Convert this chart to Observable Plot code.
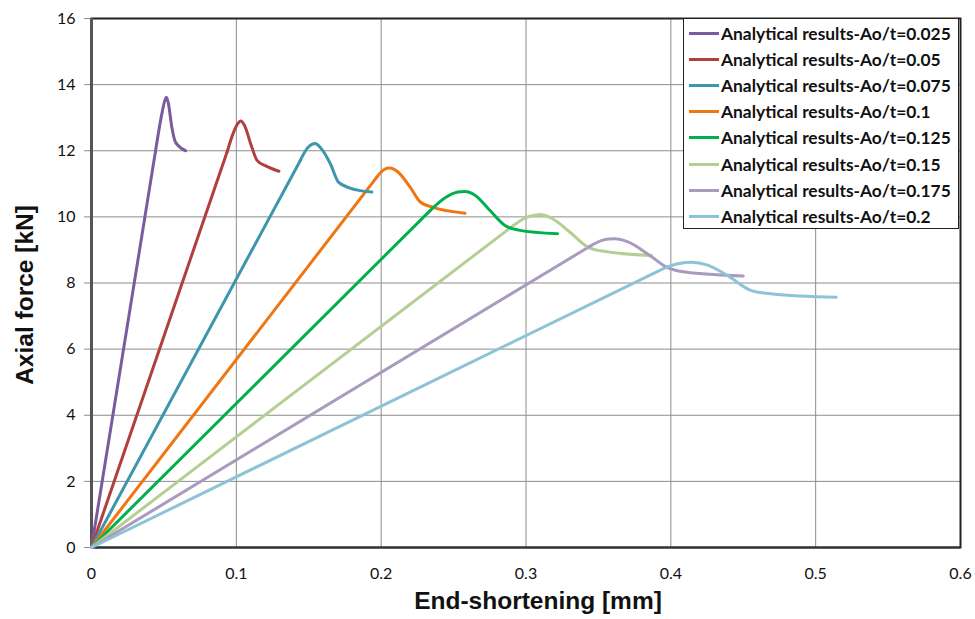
<!DOCTYPE html>
<html>
<head>
<meta charset="utf-8">
<script src="https://cdn.jsdelivr.net/npm/d3@7"></script>
<script src="https://cdn.jsdelivr.net/npm/@observablehq/plot@0.6"></script>
<style>
  html, body { margin: 0; padding: 0; background: #fff; }
  #wrap { position: relative; width: 975px; height: 619px; }
  #legend {
    position: absolute; left: 683px; top: 18px; width: 276px; height: 211px;
    background: #fff; border: 1px solid #222; box-sizing: border-box;
    font-family: Lato, "Open Sans", sans-serif; font-weight: bold; font-size: 17.4px; color: #111;
    padding-top: 1px; white-space: nowrap;
  }
  .row { display: flex; align-items: center; height: 26.2px; }
  .sw { width: 30px; height: 3px; margin-left: 5px; margin-right: 2px; flex: none; }
</style>
</head>
<body>
<div id="wrap"></div>
<script>
const seriesNames = ["Analytical results-Ao/t=0.025","Analytical results-Ao/t=0.05","Analytical results-Ao/t=0.075","Analytical results-Ao/t=0.1","Analytical results-Ao/t=0.125","Analytical results-Ao/t=0.15","Analytical results-Ao/t=0.175","Analytical results-Ao/t=0.2"];
const seriesColors = ["#7a5c9e","#b13f3b","#3e96ad","#ef7610","#00b04f","#b5cf92","#a99abf","#8dc3d6"];

// first two points of each series: straight elastic branch; the rest: smooth peak and post-buckling branch
const s025x = [0, 0.0441, 0.0485, 0.0505, 0.0517, 0.053, 0.0555, 0.0575, 0.060, 0.065];
const s025y = [0, 11.96, 13.1, 13.5, 13.62, 13.45, 12.7, 12.31, 12.15, 12.0];
const s050x = [0, 0.0936, 0.098, 0.101, 0.103, 0.1055, 0.110, 0.1143, 0.120, 0.1294];
const s050y = [0, 11.96, 12.55, 12.82, 12.9, 12.78, 12.2, 11.71, 11.55, 11.38];
const s075x = [0, 0.1441, 0.149, 0.1525, 0.1545, 0.158, 0.165, 0.1705, 0.178, 0.1936];
const s075y = [0, 11.7, 12.08, 12.2, 12.22, 12.1, 11.6, 11.05, 10.88, 10.75];
const s100x = [0, 0.197, 0.201, 0.204, 0.2062, 0.211, 0.220, 0.227, 0.235, 0.2579];
const s100y = [0, 11.2, 11.4, 11.47, 11.48, 11.38, 10.9, 10.45, 10.3, 10.11];
const s125x = [0, 0.2338, 0.245, 0.253, 0.2579, 0.265, 0.275, 0.2855, 0.295, 0.3218];
const s125y = [0, 10.19, 10.6, 10.75, 10.77, 10.65, 10.2, 9.74, 9.6, 9.49];
const s150x = [0, 0.2913, 0.300, 0.306, 0.3097, 0.318, 0.330, 0.343, 0.355, 0.3867];
const s150y = [0, 9.74, 9.98, 10.05, 10.07, 9.95, 9.55, 9.08, 8.95, 8.83];
const s175x = [0, 0.343, 0.352, 0.357, 0.3614, 0.370, 0.385, 0.397, 0.410, 0.450];
const s175y = [0, 9.08, 9.28, 9.33, 9.34, 9.25, 8.85, 8.48, 8.33, 8.21];
const s200x = [0, 0.397, 0.405, 0.410, 0.4142, 0.425, 0.440, 0.4556, 0.470, 0.5142];
const s200y = [0, 8.48, 8.58, 8.62, 8.63, 8.55, 8.2, 7.77, 7.67, 7.57];

const xTicks = [0, 0.1, 0.2, 0.3, 0.4, 0.5, 0.6];
const yTicks = [0, 2, 4, 6, 8, 10, 12, 14, 16];
const xTitle = "End-shortening [mm]";
const yTitle = "Axial force [kN]";

const allX = [s025x, s050x, s075x, s100x, s125x, s150x, s175x, s200x];
const allY = [s025y, s050y, s075y, s100y, s125y, s150y, s175y, s200y];
const straight = [], smooth = [];
allX.forEach((xs, i) => xs.forEach((x, j) => {
  const d = {series: seriesNames[i], x, y: allY[i][j]};
  if (j <= 1) straight.push(d);
  if (j >= 1) smooth.push(d);
}));

const tickFont = "Lato, 'Open Sans', sans-serif";
const titleFont = "'Liberation Sans', Arial, sans-serif";

const chart = Plot.plot({
  width: 975, height: 619,
  marginLeft: 91, marginRight: 15, marginTop: 18, marginBottom: 72,
  style: {background: "#fff", overflow: "visible"},
  x: {domain: [0, 0.6]},
  y: {domain: [0, 16]},
  color: {domain: seriesNames, range: seriesColors},
  marks: [
    Plot.gridX(xTicks, {stroke: "#8c8c8c", strokeOpacity: 1, strokeWidth: 1}),
    Plot.gridY(yTicks, {stroke: "#8c8c8c", strokeOpacity: 1, strokeWidth: 1}),
    Plot.frame({stroke: "#222", strokeWidth: 2}),
    Plot.axisX(xTicks, {tickSize: 0, tickPadding: 20, tickFormat: d => String(d), fontSize: 16, fontFamily: tickFont, fill: "#111", label: null}),
    Plot.axisY(yTicks, {tickSize: 7, tickPadding: 9, stroke: "#8c8c8c", fontSize: 16, fontFamily: tickFont, fill: "#111", label: null}),
    Plot.ruleX([0], {stroke: "#555", strokeWidth: 3}),
    Plot.ruleY([0], {stroke: "#333", strokeWidth: 2}),
    Plot.line(straight, {x: "x", y: "y", z: "series", stroke: "series", strokeWidth: 3, strokeLinecap: "round"}),
    Plot.line(smooth, {x: "x", y: "y", z: "series", stroke: "series", strokeWidth: 3, curve: "monotone-x", strokeLinecap: "round"}),
    Plot.text([xTitle], {frameAnchor: "bottom", dx: 12, dy: 61, fontSize: 24.5, fontWeight: "bold", fontFamily: titleFont, fill: "#111"}),
    Plot.text([yTitle], {frameAnchor: "left", textAnchor: "middle", dx: -66, dy: 12, rotate: -90, fontSize: 24.5, fontWeight: "bold", fontFamily: titleFont, fill: "#111"})
  ]
});

const wrap = document.getElementById("wrap");
wrap.appendChild(chart);
const legend = document.createElement("div");
legend.id = "legend";
seriesNames.forEach((name, i) => {
  const row = document.createElement("div");
  row.className = "row";
  const sw = document.createElement("span");
  sw.className = "sw";
  sw.style.background = seriesColors[i];
  const t = document.createElement("span");
  t.textContent = name;
  row.appendChild(sw); row.appendChild(t);
  legend.appendChild(row);
});
wrap.appendChild(legend);
</script>
</body>
</html>
